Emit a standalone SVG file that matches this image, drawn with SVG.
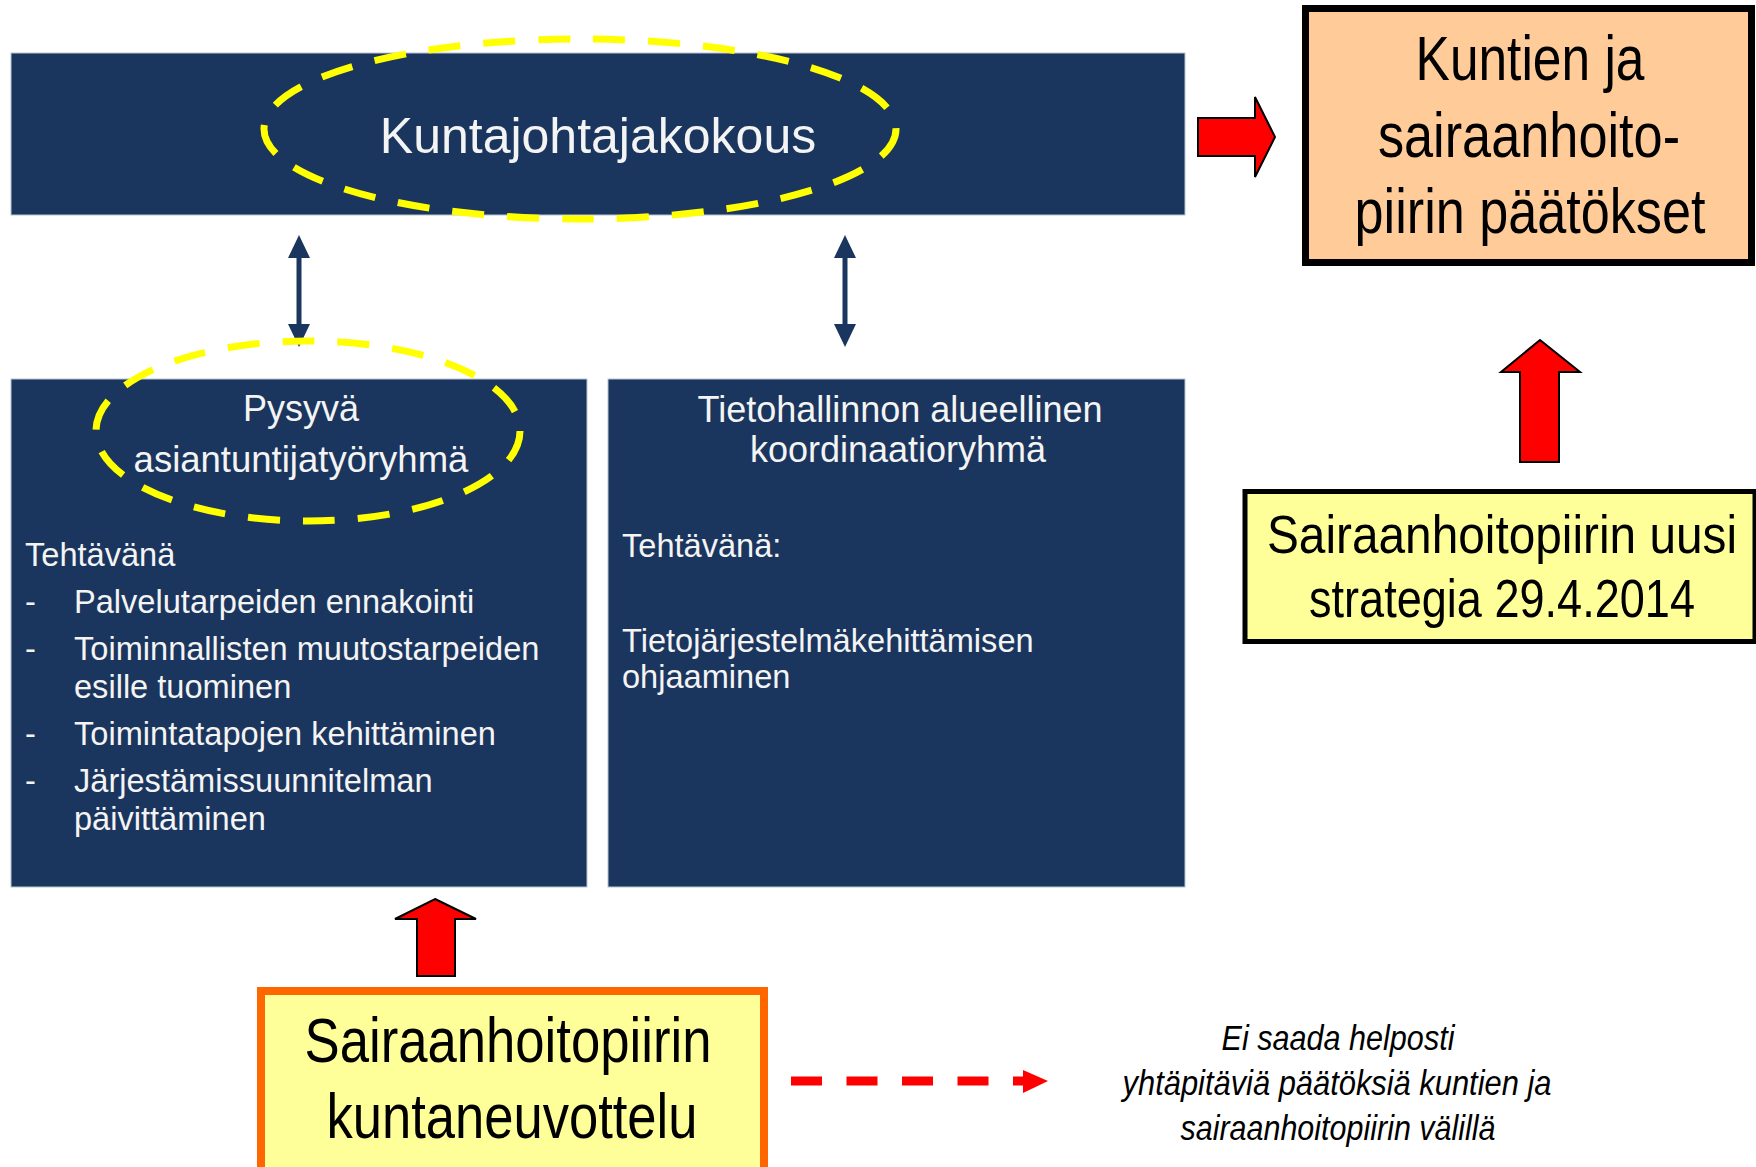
<svg xmlns="http://www.w3.org/2000/svg" width="1756" height="1167" viewBox="0 0 1756 1167">
<style>
.navy{fill:#1b365e;stroke:#b9c3d2;stroke-width:1}
.wt{fill:#f4f4f4;font-family:"Liberation Sans",Arial,sans-serif}
.bt{fill:#000;font-family:"Liberation Sans",Arial,sans-serif}
.li{font-size:32.6px}
.ell{fill:none;stroke:#ffff00;stroke-width:7;stroke-dasharray:32 23}
.red{fill:#ff0000;stroke:#000;stroke-width:2;stroke-linejoin:miter}
.dbl{stroke:#1b365e;stroke-width:5}
.dblh{fill:#1b365e}
</style>
<rect width="1756" height="1167" fill="#ffffff"/>

<g id="kuntajohtajakokous">
<rect class="navy" x="11" y="53" width="1174" height="162"/>
<text class="wt" x="598" y="153" font-size="50" text-anchor="middle">Kuntajohtajakokous</text>
</g>

<g id="pysyva">
<rect class="navy" x="11" y="379" width="576" height="508"/>
<text class="wt" x="301" y="421" font-size="36" text-anchor="middle">Pysyvä</text>
<text class="wt" x="301" y="472" font-size="36.5" text-anchor="middle">asiantuntijatyöryhmä</text>
<text class="wt li" x="25" y="566">Tehtävänä</text>
<text class="wt li" x="25" y="613">-</text>
<text class="wt li" x="74" y="613">Palvelutarpeiden ennakointi</text>
<text class="wt li" x="25" y="660">-</text>
<text class="wt li" x="74" y="660">Toiminnallisten muutostarpeiden</text>
<text class="wt li" x="74" y="698">esille tuominen</text>
<text class="wt li" x="25" y="745">-</text>
<text class="wt li" x="74" y="745">Toimintatapojen kehittäminen</text>
<text class="wt li" x="25" y="792">-</text>
<text class="wt li" x="74" y="792">Järjestämissuunnitelman</text>
<text class="wt li" x="74" y="830">päivittäminen</text>
</g>

<g id="tietohallinto">
<rect class="navy" x="608" y="379" width="577" height="508"/>
<text class="wt" x="900" y="422" font-size="36" text-anchor="middle">Tietohallinnon alueellinen</text>
<text class="wt" x="898" y="462" font-size="36" text-anchor="middle">koordinaatioryhmä</text>
<text class="wt li" x="622" y="557">Tehtävänä:</text>
<text class="wt li" x="622" y="652">Tietojärjestelmäkehittämisen</text>
<text class="wt li" x="622" y="688">ohjaaminen</text>
</g>

<g id="paatokset">
<rect x="1305.5" y="8.5" width="446" height="254" fill="#ffcc99" stroke="#000" stroke-width="7"/>
<text class="bt" transform="translate(1530,80) scale(0.817,1)" font-size="63" text-anchor="middle">Kuntien ja</text>
<text class="bt" transform="translate(1529,157) scale(0.83,1)" font-size="63" text-anchor="middle">sairaanhoito-</text>
<text class="bt" transform="translate(1530,233) scale(0.828,1)" font-size="63" text-anchor="middle">piirin päätökset</text>
</g>

<g id="strategia">
<rect x="1245" y="491.5" width="510" height="150" fill="#ffff99" stroke="#000" stroke-width="5"/>
<text class="bt" transform="translate(1502,553) scale(0.885,1)" font-size="54" text-anchor="middle">Sairaanhoitopiirin uusi</text>
<text class="bt" transform="translate(1502,617) scale(0.835,1)" font-size="54" text-anchor="middle">strategia 29.4.2014</text>
</g>

<g id="kuntaneuvottelu">
<rect x="261" y="991" width="503" height="190" fill="#ffff99" stroke="#ff6600" stroke-width="8"/>
<text class="bt" transform="translate(508,1062) scale(0.836,1)" font-size="63" text-anchor="middle">Sairaanhoitopiirin</text>
<text class="bt" transform="translate(512,1138) scale(0.834,1)" font-size="63" text-anchor="middle">kuntaneuvottelu</text>
</g>

<g id="huomautus">
<text class="bt" transform="translate(1338,1050) scale(0.874,1)" font-size="35" font-style="italic" text-anchor="middle">Ei saada helposti</text>
<text class="bt" transform="translate(1337,1095) scale(0.882,1)" font-size="35" font-style="italic" text-anchor="middle">yhtäpitäviä päätöksiä kuntien ja</text>
<text class="bt" transform="translate(1338,1140) scale(0.871,1)" font-size="35" font-style="italic" text-anchor="middle">sairaanhoitopiirin välillä</text>
</g>

<g id="connectors">
<line class="dbl" x1="299" y1="252" x2="299" y2="330"/>
<polygon class="dblh" points="299,235 310,258 288,258"/>
<polygon class="dblh" points="299,347 310,324 288,324"/>
<line class="dbl" x1="845" y1="252" x2="845" y2="330"/>
<polygon class="dblh" points="845,235 856,258 834,258"/>
<polygon class="dblh" points="845,347 856,324 834,324"/>
<polygon class="red" points="1198,118 1255,118 1255,97 1275,137 1255,177 1255,156 1198,156"/>
<polygon class="red" points="1540,340 1580,372 1559,372 1559,462 1520,462 1520,372 1501,372"/>
<polygon class="red" points="435,899 476,919 455,919 455,976 417,976 417,919 395,919"/>
<line x1="791" y1="1081" x2="1025" y2="1081" stroke="#ff0000" stroke-width="9" stroke-dasharray="31 24.5"/>
<polygon points="1023,1070 1048,1081 1023,1093" fill="#ff0000"/>
</g>

<g id="highlights">
<ellipse class="ell" cx="580" cy="129" rx="316" ry="90"/>
<ellipse class="ell" cx="308" cy="431" rx="212" ry="90"/>
</g>
</svg>
